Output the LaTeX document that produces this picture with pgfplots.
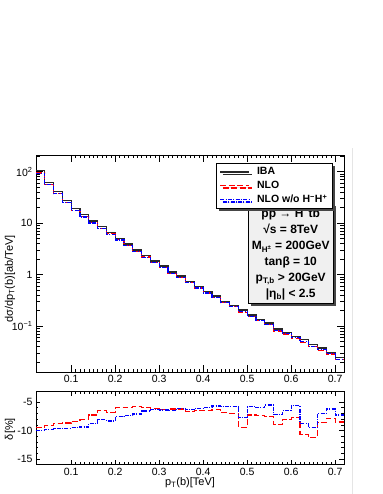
\documentclass[border=0pt]{standalone}
\usepackage{fontspec}
\setmainfont{Liberation Sans}
\usepackage{pgfplots}
\usepackage{pgfplotstable}
\pgfplotsset{compat=1.18}
\usetikzlibrary{shadows}

% bins of 0.02 TeV, left edges; last row closes the histogram at 0.72
\pgfplotstableread{
x    iba    nlo     nlow    dn      dw
0.02 104    94.15   93.66   -9.47   -9.94
0.04 62     56.35   55.91   -9.12   -9.82
0.06 41     37.40   37.02   -8.78   -9.70
0.08 27.9   25.48   25.22   -8.66   -9.59
0.10 19.5   17.87   17.64   -8.37   -9.53
0.12 14.5   13.33   13.14   -8.08   -9.36
0.14 11.0   10.20   10.04   -7.26   -8.72
0.16 8.55   8.00    7.86    -6.45   -8.08
0.18 6.66   6.21    6.11    -6.80   -8.31
0.20 5.09   4.785   4.705   -5.99   -7.56
0.22 3.95   3.716   3.658   -5.93   -7.38
0.24 3.02   2.845   2.806   -5.81   -7.09
0.26 2.34   2.201   2.186   -5.93   -6.57
0.28 1.85   1.737   1.733   -6.10   -6.34
0.30 1.46   1.368   1.367   -6.28   -6.39
0.32 1.13   1.060   1.057   -6.22   -6.45
0.34 0.94   0.8815  0.8827  -6.22   -6.10
0.36 0.745  0.6952  0.6978  -6.69   -6.34
0.38 0.585  0.5473  0.5493  -6.45   -6.10
0.40 0.468  0.4378  0.4402  -6.45   -5.93
0.42 0.386  0.3615  0.3640  -6.34   -5.70
0.44 0.304  0.2831  0.2865  -6.86   -5.76
0.46 0.254  0.2363  0.2392  -6.97   -5.81
0.48 0.206  0.1866  0.1901  -9.41   -7.73
0.50 0.165  0.1530  0.1554  -7.26   -5.81
0.52 0.136  0.1260  0.1279  -7.38   -5.99
0.54 0.114  0.1054  0.1077  -7.55   -5.52
0.56 0.088  0.0801  0.0817  -9.00   -7.15
0.58 0.076  0.0699  0.0711  -8.02   -6.51
0.60 0.0626 0.0578  0.0591  -7.73   -5.64
0.62 0.054  0.0483  0.0493  -10.63  -8.72
0.64 0.0445 0.0395  0.0403  -11.20  -9.41
0.66 0.0373 0.0341  0.0347  -8.54   -6.97
0.68 0.0311 0.0287  0.0292  -7.85   -6.22
0.70 0.0245 0.0224  0.0227  -8.50   -7.26
0.72 0.0245 0.0224  0.0227  -8.50   -7.26
}\hist

\definecolor{ibagray}{RGB}{40,40,40}
\definecolor{nlored}{RGB}{255,0,0}
\definecolor{nloblue}{RGB}{0,0,255}
\definecolor{boxgray}{RGB}{240,240,240}
\definecolor{shadowgray}{RGB}{70,70,70}

\pgfplotsset{
  rootframe/.style={
    scale only axis,
    width=308pt,
    xmin=0.02, xmax=0.72,
    xtick={0.1,0.2,...,0.7},
    minor x tick num=9,
    tick align=inside,
    axis line style={line width=0.7pt},
    major tick length=5pt,
    minor tick length=2.5pt,
    tick style={black, line width=0.5pt},
    tick label style={font=\fontsize{10.5}{12}\selectfont},
    /pgf/number format/assume math mode=true,
    xticklabel style={/pgf/number format/fixed, /pgf/number format/precision=1},
    label style={font=\fontsize{11}{13}\selectfont},
  },
  ibaline/.style={color=ibagray, line width=1.3pt, const plot mark left},
  nloline/.style={color=nlored, line width=1.2pt, dash pattern=on 6pt off 2.5pt, const plot mark left},
  nlowline/.style={color=nloblue, line width=1.2pt, dash pattern=on 4pt off 1.3pt on 1pt off 1.3pt, const plot mark left},
}

\begin{document}
\begin{tikzpicture}
\path[use as bounding box] (0pt,0pt) rectangle (382pt,494pt);
\draw[gray!20, line width=0.6pt] (352.5pt,0pt) -- (352.5pt,346pt);

% upper panel: distribution
\begin{axis}[
  rootframe,
  at={(36pt,122pt)}, anchor=south west,
  height=217pt,
  ymode=log,
  ymin=0.0128, ymax=211,
  ytick={0.1,1,10,100},
  yticklabels={10\textsuperscript{−1},1,10,10\textsuperscript{2}},
  minor ytick={0.02,0.03,0.04,0.05,0.06,0.07,0.08,0.09,0.2,0.3,0.4,0.5,0.6,0.7,0.8,0.9,2,3,4,5,6,7,8,9,20,30,40,50,60,70,80,90,200},
  major tick length=7pt,
  minor tick length=3.5pt,
  legend cell align=left,
  legend style={at={(0.963,0.962)}, anchor=north east, draw=black, line width=0.6pt,
    fill=white, general shadow={shadow xshift=2.5pt, shadow yshift=-2.5pt, fill=shadowgray},
    font=\bfseries\fontsize{10.5}{11}\selectfont, row sep=0.8pt, column sep=5pt,
    inner xsep=3pt, inner ysep=2pt},
  legend image code/.code={\draw[#1] (0pt,0pt) -- (29pt,0pt);},
]
\addplot[ibaline] table[x=x, y=iba] {\hist};
\addlegendentry{IBA}
\addplot[nloline] table[x=x, y=nlo] {\hist};
\addlegendentry{NLO}
\addplot[nlowline] table[x=x, y=nlow] {\hist};
\addlegendentry{NLO w/o H\textsuperscript{−}H\textsuperscript{+}}

\node[draw=black, line width=0.6pt, fill=boxgray,
  general shadow={shadow xshift=2.5pt, shadow yshift=-2.5pt, fill=shadowgray},
  align=center, minimum width=85pt, minimum height=100pt, inner sep=1pt,
  font=\bfseries\fontsize{12}{16}\selectfont]
  at (rel axis cs:0.827,0.545)
  {pp → H\textsuperscript{−}t$\overline{\mbox{b}}$\\
   √s = 8TeV\\
   M\textsubscript{H\textsuperscript{±}} = 200GeV\\
   tanβ = 10\\
   p\textsubscript{T,b} > 20GeV\\
   |η\textsubscript{b}| < 2.5};
\end{axis}
\node[rotate=90, font=\fontsize{11}{13}\selectfont] at (10pt,215pt) {dσ/dp\textsubscript{T}(b)[ab/TeV]};

% lower panel: relative corrections
\begin{axis}[
  rootframe,
  at={(36pt,29.7pt)}, anchor=south west,
  height=72.6pt,
  ymin=-15.9, ymax=-3.2,
  ytick={-15,-10,-5},
  yticklabels={-15,-10,-5},
  minor y tick num=4,
  major tick length=4.5pt,
  minor tick length=2.5pt,
]
\addplot[nloline] table[x=x, y=dn] {\hist};
\addplot[nlowline] table[x=x, y=dw] {\hist};
\end{axis}
\node[rotate=90, font=\fontsize{11}{13}\selectfont] at (10pt,65pt) {δ[\%]};
\node[font=\fontsize{11}{13}\selectfont] at (190pt,11pt) {p\textsubscript{T}(b)[TeV]};
\end{tikzpicture}
\end{document}
